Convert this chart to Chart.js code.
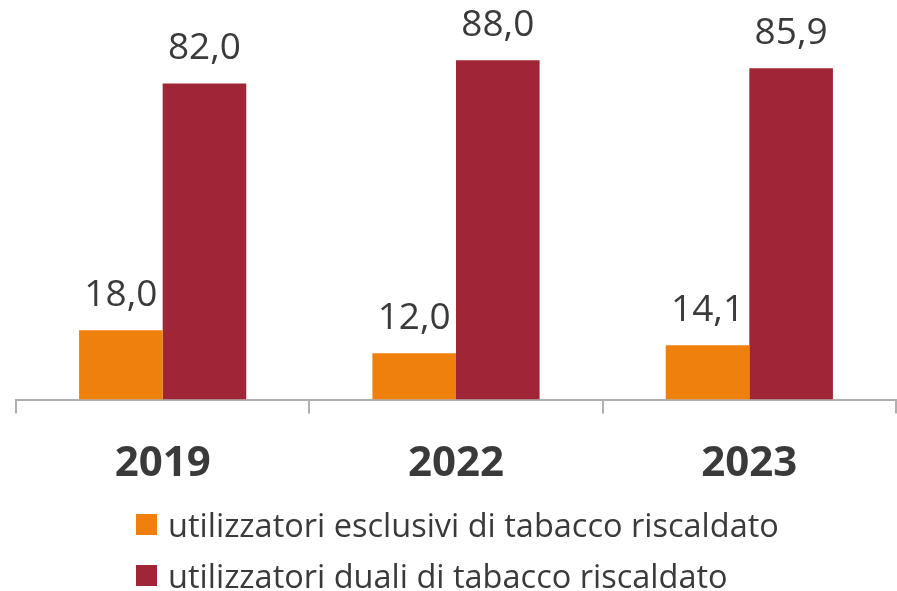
<!DOCTYPE html>
<html>
<head>
<meta charset="utf-8">
<script src="https://cdn.jsdelivr.net/npm/chart.js@4/dist/chart.umd.min.js"></script>
<style>
    html, body { margin: 0; padding: 0; background: #fff; }
    .wrap { position: relative; width: 897px; height: 591px; }
    #chart { position: absolute; left: 0; top: 0; }
    .legend { position: absolute; left: 136px; top: 499px; font-family: 'Open Sans', sans-serif; font-size: 32.5px; color: #3a3a3a; }
    .legend-item { display: flex; align-items: center; height: 51px; white-space: nowrap; }
    .legend-box { width: 21px; height: 21px; margin-right: 11px; flex: none; }
</style>
</head>
<body>
<div class="wrap">
    <canvas id="chart" width="897" height="514"></canvas>
    <div class="legend" id="legend"></div>
</div>
<script>
const years = ['2019', '2022', '2023'];
const seriesNames = [
    'utilizzatori esclusivi di tabacco riscaldato',
    'utilizzatori duali di tabacco riscaldato',
];
const exclusiveUsers = [18.0, 12.0, 14.1];
const dualUsers = [82.0, 88.0, 85.9];
const seriesColors = ['#f0800c', '#a02637'];

const textColor = '#3a3a3a';

// value labels above each bar, italian decimal comma
const valueLabels = {
    id: 'valueLabels',
    afterDatasetsDraw(chart) {
        const ctx = chart.ctx;
        ctx.save();
        ctx.font = "37px 'Open Sans', sans-serif";
        ctx.fillStyle = textColor;
        ctx.textAlign = 'center';
        ctx.textBaseline = 'alphabetic';
        chart.data.datasets.forEach((ds, i) => {
            chart.getDatasetMeta(i).data.forEach((bar, j) => {
                const label = ds.data[j].toFixed(1).replace('.', ',');
                ctx.fillText(label, bar.x, bar.y - 24);
            });
        });
        ctx.restore();
    },
};

new Chart(document.getElementById('chart').getContext('2d'), {
    type: 'bar',
    data: {
        labels: years,
        datasets: [
            { label: seriesNames[0], data: exclusiveUsers, backgroundColor: seriesColors[0] },
            { label: seriesNames[1], data: dualUsers, backgroundColor: seriesColors[1] },
        ],
    },
    options: {
        responsive: false,
        animation: false,
        layout: { padding: { top: 14, left: 16, right: 1, bottom: 0 } },
        datasets: {
            bar: { categoryPercentage: 0.57, barPercentage: 1.0 },
        },
        plugins: {
            legend: { display: false },
            tooltip: { enabled: false },
        },
        scales: {
            x: {
                grid: {
                    drawOnChartArea: false,
                    color: '#b0b0b0',
                    lineWidth: 2,
                    tickLength: 14,
                    offset: true,
                },
                border: { color: '#b0b0b0', width: 2 },
                ticks: {
                    color: textColor,
                    padding: 25,
                    font: { family: "'Open Sans', sans-serif", size: 42, weight: 'bold' },
                },
            },
            y: {
                display: false,
                min: 0,
                max: 100,
            },
        },
    },
    plugins: [valueLabels],
});

const legendEl = document.getElementById('legend');
seriesNames.forEach((name, i) => {
    const item = document.createElement('div');
    item.className = 'legend-item';
    const box = document.createElement('span');
    box.className = 'legend-box';
    box.style.background = seriesColors[i];
    const text = document.createElement('span');
    text.textContent = name;
    item.appendChild(box);
    item.appendChild(text);
    legendEl.appendChild(item);
});
</script>
</body>
</html>
